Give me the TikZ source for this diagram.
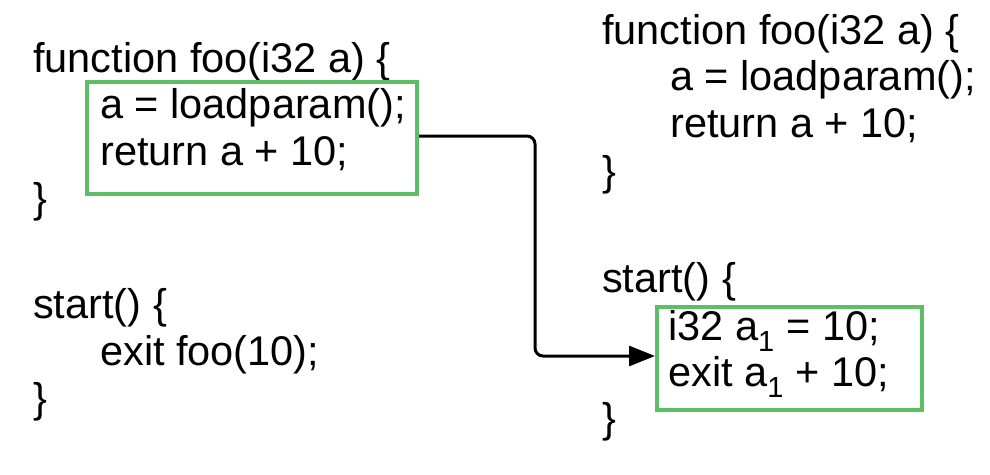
\documentclass[tikz,border=0pt]{standalone}
\usepackage{fontspec}
\setmainfont{Liberation Sans}
\usetikzlibrary{arrows.meta}
\begin{document}
\begin{tikzpicture}[x=1pt,y=-1pt,
  t/.style={anchor=base west,inner sep=0pt,font=\fontsize{41.5}{48}\selectfont},
  box/.style={draw=boxg,line width=4pt},
  ]
\definecolor{boxg}{HTML}{5CBF66}
\useasboundingbox (0,0) rectangle (990,474);
\node[t] (l1) at (33,72) {function foo(i32 a) \{};
\node[t] (l2) at (100,118) {a = loadparam();};
\node[t] (l3) at (100,165) {return a + 10;};
\node[t] (l4) at (33,212) {\}};
\node[t] (l5) at (33,318) {start() \{};
\node[t] (l6) at (100,365) {exit foo(10);};
\node[t] (l7) at (33,412) {\}};
\node[box,minimum width=330,minimum height=112,anchor=north west] (b1) at (85,80) {};
\node[t] (r1) at (602,44) {function foo(i32 a) \{};
\node[t] (r2) at (670,90) {a = loadparam();};
\node[t] (r3) at (670,137) {return a + 10;};
\node[t] (r4) at (602,185) {\}};
\node[t] (r5) at (602,292) {start() \{};
\node[t] (r6) at (668,340) {i32 a\textsubscript{1} = 10;};
\node[t] (r7) at (668,386) {exit a\textsubscript{1} + 10;};
\node[t] (r8) at (602,432) {\}};
\node[box,minimum width=265,minimum height=103,anchor=north west] (b2) at (655,305) {};
\draw[line width=3pt,rounded corners=8pt,-{Triangle[length=26pt,width=20pt]}]
  (b1.east |- 0,136) -- (535,136) -- (535,356) -- (b2.west |- 0,356);
\end{tikzpicture}
\end{document}
